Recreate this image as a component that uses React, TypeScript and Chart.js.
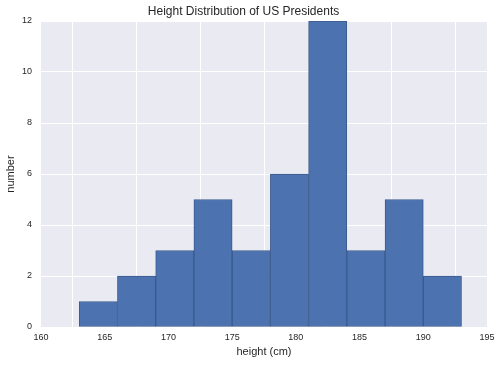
import React, { useEffect, useRef } from "react";
import { Chart, registerables } from "chart.js";

Chart.register(...registerables);

const binStarts = [163, 166, 169, 172, 175, 178, 181, 184, 187, 190];
const binWidth = 3;
const counts = [1, 2, 3, 5, 3, 6, 12, 3, 5, 2];
const xTicks = [160, 165, 170, 175, 180, 185, 190, 195];
const yTicks = [0, 2, 4, 6, 8, 10, 12];

const FONT = "'Liberation Sans', Arial, Helvetica, sans-serif";

const bgPlugin = {
  id: "plotBg",
  beforeDraw(chart: any) {
    const { ctx, chartArea } = chart;
    if (!chartArea) return;
    ctx.save();
    ctx.fillStyle = "#EAEAF2";
    ctx.fillRect(chartArea.left, chartArea.top, chartArea.right - chartArea.left, chartArea.bottom - chartArea.top);
    ctx.restore();
  },
};

export default function App() {
  const ref = useRef<HTMLCanvasElement>(null);
  useEffect(() => {
    if (!ref.current) return;
    const data = binStarts.map((s, i) => ({ x: s + binWidth / 2, y: counts[i] }));
    const chart = new Chart(ref.current, {
      type: "bar",
      data: {
        datasets: [
          {
            data,
            backgroundColor: "#4C72B0",
            borderColor: "#3B5B8E",
            borderWidth: 1,
            borderSkipped: false,
            barPercentage: 1,
            categoryPercentage: 1,
          },
        ],
      },
      plugins: [bgPlugin],
      options: {
        animation: false,
        responsive: false,
        maintainAspectRatio: false,
        layout: { padding: { left: 0, right: 15, top: 0, bottom: 0 } },
        plugins: {
          legend: { display: false },
          tooltip: { enabled: false },
          title: {
            display: true,
            text: "Height Distribution of US Presidents",
            color: "#262626",
            font: { family: FONT, size: 12, weight: "normal" },
            padding: { top: 4, bottom: 2.6 },
          },
        },
        scales: {
          x: {
            type: "linear",
            min: 160,
            max: 195,
            offset: false,
            afterBuildTicks: (scale: any) => {
              scale.ticks = xTicks.map((v) => ({ value: v }));
            },
            afterFit: (scale: any) => {
              scale.height = 38;
            },
            ticks: {
              color: "#262626",
              font: { family: FONT, size: 9 },
              padding: 5,
              maxRotation: 0,
              autoSkip: false,
            },
            grid: { color: "#FFFFFF", lineWidth: 1, drawTicks: false },
            border: { display: false },
            title: {
              display: true,
              text: "height (cm)",
              color: "#262626",
              font: { family: FONT, size: 11 },
              padding: { top: 0, bottom: 6.4 },
            },
          },
          y: {
            min: 0,
            max: 12,
            afterBuildTicks: (scale: any) => {
              scale.ticks = yTicks.map((v) => ({ value: v }));
            },
            afterFit: (scale: any) => {
              scale.width = 41;
            },
            ticks: {
              color: "#262626",
              font: { family: FONT, size: 9 },
              padding: 9,
            },
            grid: { color: "#FFFFFF", lineWidth: 1, drawTicks: false },
            border: { display: false },
            title: {
              display: true,
              text: "number",
              color: "#262626",
              font: { family: FONT, size: 11 },
              padding: { top: 4.4, bottom: 0 },
            },
          },
        },
      },
    } as any);
    return () => chart.destroy();
  }, []);
  return (
    <div style={{ position: "fixed", left: 0, top: 0, width: 502, height: 365, background: "#fff" }}>
      <canvas ref={ref} width={502} height={365} style={{ width: 502, height: 365, display: "block" }} />
    </div>
  );
}
